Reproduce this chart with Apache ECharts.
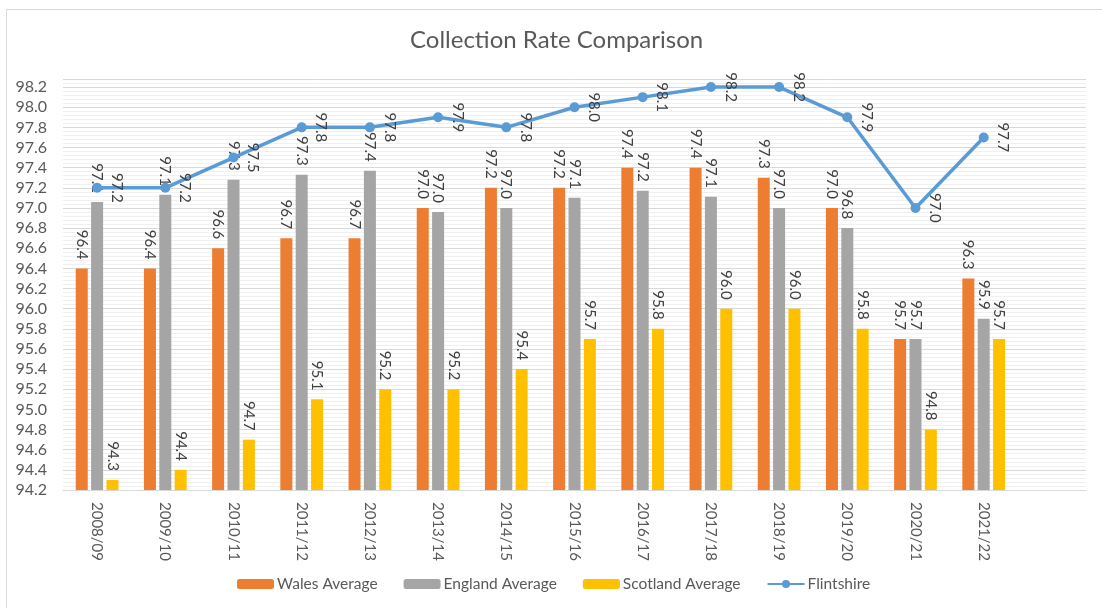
<!DOCTYPE html>
<html>
<head>
<meta charset="utf-8">
<script src="https://cdn.jsdelivr.net/npm/echarts@6/dist/echarts.min.js"></script>
<style>
html,body{margin:0;padding:0;background:#fff;}
#chart{width:1102px;height:608px;}
</style>
</head>
<body>
<div id="chart"></div>
<script>
var categories = ['2008/09','2009/10','2010/11','2011/12','2012/13','2013/14','2014/15','2015/16','2016/17','2017/18','2018/19','2019/20','2020/21','2021/22',''];
var walesAverage = [96.4, 96.4, 96.6, 96.7, 96.7, 97.0, 97.2, 97.2, 97.4, 97.4, 97.3, 97.0, 95.7, 96.3];
var englandAverage = [97.06, 97.13, 97.28, 97.33, 97.37, 96.96, 97.0, 97.1, 97.17, 97.11, 97.0, 96.8, 95.7, 95.9];
var scotlandAverage = [94.3, 94.4, 94.7, 95.1, 95.2, 95.2, 95.4, 95.7, 95.8, 96.0, 96.0, 95.8, 94.8, 95.7];
var flintshire = [97.2, 97.2, 97.5, 97.8, 97.8, 97.9, 97.8, 98.0, 98.1, 98.2, 98.2, 97.9, 97.0, 97.7];

var FONT = 'Lato';
var chart = echarts.init(document.getElementById('chart'), null, {renderer: 'canvas'});

function fmt(p){ return Number(p.value).toFixed(1); }
var barLabel = {
  show: true, position: 'top', rotate: -90, align: 'right', verticalAlign: 'middle',
  distance: 9, formatter: fmt, color: '#404040', fontFamily: FONT, fontSize: 15
};
function barSeries(name, data, color){
  return {
    name: name, type: 'bar', data: data, barWidth: 12, barGap: '28%',
    itemStyle: {color: color}, label: barLabel, z: 2
  };
}

chart.setOption({
  animation: false,
  backgroundColor: '#ffffff',
  textStyle: {fontFamily: FONT},
  title: {
    text: 'Collection Rate Comparison', left: 405, top: 23,
    textStyle: {fontFamily: FONT, fontSize: 24, fontWeight: 'normal', color: '#595959'}
  },
  graphic: [{
    type: 'rect', silent: true, z: -10,
    shape: {x: 6.5, y: 9.5, width: 1200, height: 700},
    style: {fill: 'none', stroke: '#D9D9D9', lineWidth: 1}
  }],
  legend: {
    bottom: 11, left: 232, itemWidth: 37, itemHeight: 10, itemGap: 26,
    textStyle: {fontFamily: FONT, fontSize: 15.5, color: '#595959', padding: [0,0,0,-2]},
    data: ['Wales Average','England Average','Scotland Average','Flintshire']
  },
  grid: {left: 63, right: 16, top: 79, bottom: 118, containLabel: false},
  xAxis: {
    type: 'category', data: categories, boundaryGap: true,
    axisLine: {show: true, lineStyle: {color: '#D9D9D9', width: 1}},
    axisTick: {show: false},
    axisLabel: {rotate: -90, margin: 12, color: '#595959', fontFamily: FONT, fontSize: 15, interval: 0}
  },
  yAxis: {
    type: 'value', min: 94.2, max: 98.28, interval: 0.2,
    axisLine: {show: false}, axisTick: {show: false},
    axisLabel: {showMaxLabel: false, margin: 16, color: '#595959', fontFamily: FONT, fontSize: 16,
      formatter: function(v){ return v.toFixed(1); }},
    splitLine: {show: true, lineStyle: {color: '#D9D9D9', width: 1}},
    minorTick: {show: false, splitNumber: 5},
    minorSplitLine: {show: true, lineStyle: {color: '#F0F0F0', width: 1}}
  },
  series: [
    barSeries('Wales Average', walesAverage, '#ED7D31'),
    barSeries('England Average', englandAverage, '#A5A5A5'),
    barSeries('Scotland Average', scotlandAverage, '#FFC000'),
    {
      name: 'Flintshire', type: 'line', data: flintshire, z: 5,
      symbol: 'circle', symbolSize: 10,
      lineStyle: {color: '#5B9BD5', width: 3.5},
      itemStyle: {color: '#5B9BD5'},
      label: {show: true, position: 'right', rotate: -90, align: 'center', verticalAlign: 'bottom',
        distance: 7, formatter: fmt, color: '#404040', fontFamily: FONT, fontSize: 15}
    }
  ]
});
</script>
</body>
</html>
